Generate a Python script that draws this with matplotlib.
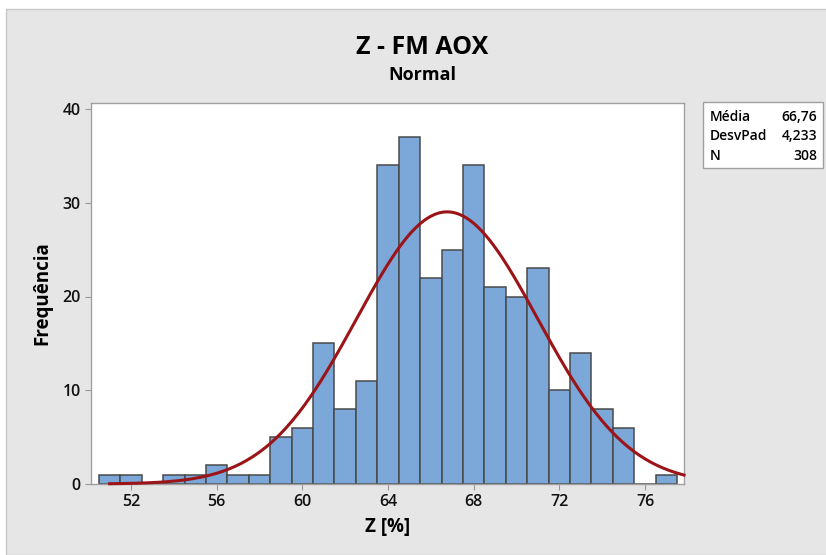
import numpy as np
import matplotlib.pyplot as plt
from matplotlib.patches import Rectangle

# histogram data (bin centres, width 1)
bin_centers = list(range(51, 78))
counts = [1, 1, 0, 1, 1, 2, 1, 1, 5, 6, 15, 8, 11, 34, 37, 22, 25, 34, 21, 20, 23, 10, 14, 8, 6, 0, 1]

mean = 66.76
std_dev = 4.233
n = 308

x_ticks = [52, 56, 60, 64, 68, 72, 76]
y_ticks = [0, 10, 20, 30, 40]

plt.rcParams['font.family'] = ['Open Sans', 'DejaVu Sans']

fig = plt.figure(figsize=(8.26, 5.55), dpi=100)
fig.patch.set_facecolor('white')

# grey panel behind everything
fig.patches.append(Rectangle((6 / 826, 0), 1, 1 - 9 / 555, transform=fig.transFigure,
                             facecolor='#e6e6e6', edgecolor='#c8c8c8', lw=1, zorder=-10))

ax = fig.add_axes([91 / 826, 71 / 555, (684 - 91) / 826, (484 - 103) / 555])
ax.set_facecolor('white')

ax.bar(bin_centers, counts, width=1.0, color='#7ba7d9', edgecolor='#4a4a4a', linewidth=1.1, zorder=2)

# fitted normal curve scaled to counts
xs = np.linspace(51, 77.82, 300)
ys = n * 1.0 / (std_dev * np.sqrt(2 * np.pi)) * np.exp(-0.5 * ((xs - mean) / std_dev) ** 2)
ax.plot(xs, ys, color='#9b1418', lw=2.2, zorder=3, clip_on=False)

ax.set_xlim(50.13, 77.82)
ax.set_ylim(0, 40.64)
ax.set_xticks(x_ticks)
ax.set_yticks(y_ticks)
ax.tick_params(axis='both', direction='out', length=4, color='#999999', labelsize=11.5, labelcolor='#111111')
for lbl in ax.get_xticklabels() + ax.get_yticklabels():
    lbl.set_fontweight('semibold')

for s in ax.spines.values():
    s.set_color('#a0a0a0')
    s.set_linewidth(1)

ax.set_xlabel('Z [%]', fontsize=13.5, fontweight='bold', labelpad=5)
ax.set_ylabel('Frequência', fontsize=13.5, fontweight='bold', labelpad=7)

fig.text(422 / 826, 1 - 47 / 555, 'Z - FM AOX', ha='center', va='center', fontsize=18, fontweight='bold')
fig.text(422 / 826, 1 - 75 / 555, 'Normal', ha='center', va='center', fontsize=13, fontweight='bold')

# stats box
fig.patches.append(Rectangle((703 / 826, 1 - 168 / 555), 120 / 826, 66 / 555, transform=fig.transFigure,
                             facecolor='white', edgecolor='#a0a0a0', lw=1, zorder=5))
labels = ['Média', 'DesvPad', 'N']
values = ['66,76', '4,233', '308']
for i, (lab, val) in enumerate(zip(labels, values)):
    yy = 1 - (117 + i * 19.5) / 555
    fig.text(710 / 826, yy, lab, ha='left', va='center', fontsize=10, fontweight='semibold', zorder=6)
    fig.text(817 / 826, yy, val, ha='right', va='center', fontsize=10, fontweight='semibold', zorder=6)

fig.savefig('out.png', dpi=100)
